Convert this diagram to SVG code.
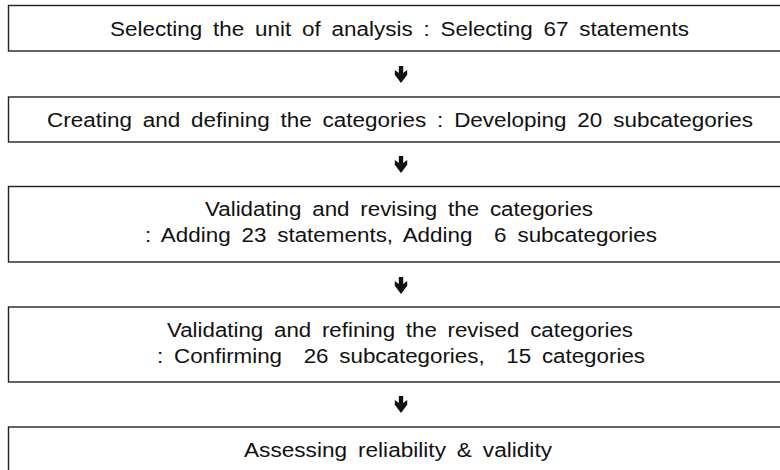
<svg xmlns="http://www.w3.org/2000/svg" width="780" height="470" viewBox="0 0 780 470">
<style>
.box{fill:#fff;stroke:#222;stroke-width:1.4}
.t{font-family:"Liberation Sans",Arial,sans-serif;font-size:19.5px;fill:#111;white-space:pre;word-spacing:4px}
.arr{fill:#111}
</style>
<defs>
<path id="darrow" d="M-2.2,0 h4.4 v7 l4,-3 v4.8 l-6.2,8.2 l-6.2,-8.2 v-4.8 l4,3 z"/>
</defs>
<rect width="780" height="470" fill="#fff"/>
<g id="connectors">
<use href="#darrow" class="arr" x="401" y="66"/>
<use href="#darrow" class="arr" x="401" y="156"/>
<use href="#darrow" class="arr" x="401" y="277"/>
<use href="#darrow" class="arr" x="401" y="396"/>
</g>
<g id="node1">
<rect class="box" x="8.5" y="5.5" width="790" height="45.5"/>
<text class="t" x="110" y="36" textLength="579" lengthAdjust="spacingAndGlyphs">Selecting the unit of analysis : Selecting 67 statements</text>
</g>
<g id="node2">
<rect class="box" x="8.5" y="97" width="790" height="45"/>
<text class="t" x="47" y="127" textLength="706" lengthAdjust="spacingAndGlyphs">Creating and defining the categories : Developing 20 subcategories</text>
</g>
<g id="node3">
<rect class="box" x="8.5" y="186.5" width="790" height="75.5"/>
<text class="t" x="205" y="216" textLength="388" lengthAdjust="spacingAndGlyphs">Validating and revising the categories</text>
<text class="t" x="145" y="242" textLength="512" lengthAdjust="spacingAndGlyphs">: Adding 23 statements, Adding  6 subcategories</text>
</g>
<g id="node4">
<rect class="box" x="8.5" y="307" width="790" height="75"/>
<text class="t" x="167" y="337" textLength="466" lengthAdjust="spacingAndGlyphs">Validating and refining the revised categories</text>
<text class="t" x="157" y="363" textLength="488" lengthAdjust="spacingAndGlyphs">: Confirming  26 subcategories,  15 categories</text>
</g>
<g id="node5">
<rect class="box" x="8.5" y="427" width="790" height="60"/>
<text class="t" x="244" y="457" textLength="308" lengthAdjust="spacingAndGlyphs">Assessing reliability &amp; validity</text>
</g>
</svg>
